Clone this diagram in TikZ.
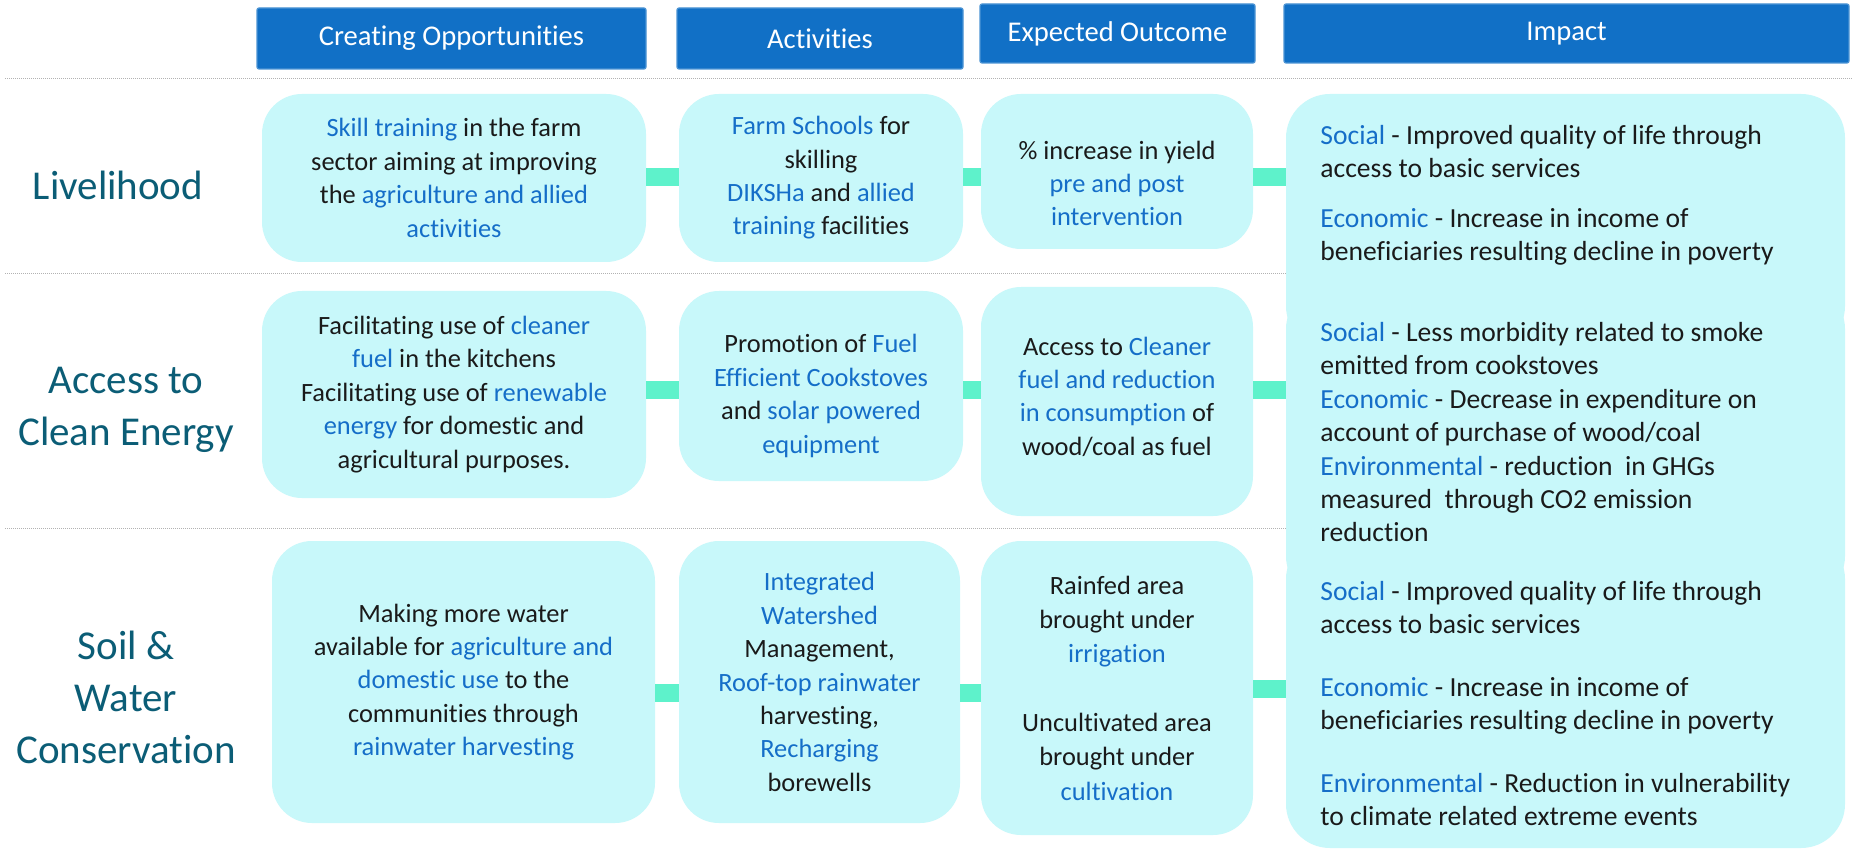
\documentclass[tikz,border=0pt]{standalone}
\usepackage{fontspec}
\setmainfont{Carlito}[Ligatures={CommonOff,ContextualOff}]
\definecolor{hdr}{HTML}{1170C6}
\definecolor{boxc}{HTML}{C8F8FA}
\definecolor{kwc}{HTML}{156EC8}
\definecolor{lbl}{HTML}{0B5D76}
\definecolor{connc}{HTML}{5EF2CB}
\definecolor{txt}{HTML}{1A1A1A}
\newcommand{\kw}[1]{\textcolor{kwc}{#1}}
\begin{document}
\begin{tikzpicture}[x=0.5pt,y=-0.5pt,
  hbox/.style={fill=hdr, draw=hdr!75!white, line width=0.6pt, text=white, inner sep=0pt, rounded corners=1pt, font=\fontsize{14.3}{17}\selectfont},
  cbox/.style={fill=boxc, rounded corners=20pt, align=center, inner sep=0pt, text=txt, font=\fontsize{13.2}{16.7}\selectfont},
  ctext/.style={align=center, inner sep=0pt, text=txt, font=\fontsize{13.2}{16.7}\selectfont},
  ibox/.style={fill=boxc, rounded corners=22pt, inner sep=0pt, minimum width=279.5pt},
  itext/.style={align=left, anchor=north west, inner sep=0pt, text=txt, font=\fontsize{13.8}{16.7}\selectfont},
  rowlbl/.style={align=center, text=lbl, inner sep=0pt, font=\fontsize{20.5}{26}\selectfont},
  connline/.style={draw=connc, line width=9pt},
  dotline/.style={draw=gray!60, line width=0.5pt, dash pattern=on 0.5pt off 0.5pt}]
\useasboundingbox (0,0) rectangle (1852,850);
\fill[white] (0,0) rectangle (1852,850);

% dotted separators
\draw[dotline] (5,79) -- (1852,79);
\draw[dotline] (5,274) -- (1290,274);
\draw[dotline] (5,528) -- (1290,528);

% headers
\node[hbox, minimum width=194.5pt, minimum height=30.5pt] (h1) at (451.5,38.5) {Creating Opportunities};
\node[hbox, minimum width=143pt, minimum height=30.5pt] (h2) at (820,38.5) {Activities};
\node[hbox, minimum width=137.5pt, minimum height=29.5pt] (h3) at (1117.5,33.5) {Expected Outcome};
\node[hbox, minimum width=282.5pt, minimum height=29.5pt] (h4) at (1566.5,33.5) {Impact};

% row labels
\node[rowlbl] (l1) at (118,185) {Livelihood};
\node[rowlbl] (l2) at (126,410) {Access to\\Clean Energy};
\node[rowlbl] (l3) at (126,697) {Soil \&\\Water\\Conservation};

% impact boxes
\node[ibox, minimum height=128pt] (i1) at (1565.5,222) {};
\node[ibox, minimum height=157.5pt] (i2) at (1565.5,442.5) {};
\node[ibox, minimum height=156.5pt] (i3) at (1565.5,691.5) {};

% row 1
\node[cbox, minimum width=192pt, minimum height=84pt] (c1) at (454,178)
  {\kw{Skill training} in the farm\\sector aiming at improving\\the \kw{agriculture and allied}\\\kw{activities}};
\node[cbox, minimum width=142pt, minimum height=84pt] (a1) at (821,178)
  {\kw{Farm Schools} for\\skilling\\\kw{DIKSHa} and \kw{allied}\\\kw{training} facilities};
\node[cbox, minimum width=136pt, minimum height=77.5pt] (e1) at (1117,171.5) {};
\node[ctext] (e1t) at (1117,183.5)
  {\% increase in yield\\\kw{pre and post}\\\kw{intervention}};

% row 2
\node[cbox, minimum width=192pt, minimum height=103.5pt] (c2) at (454,394.5)
  {Facilitating use of \kw{cleaner}\\\kw{fuel} in the kitchens\\Facilitating use of \kw{renewable}\\\kw{energy} for domestic and\\agricultural purposes.};
\node[cbox, minimum width=142pt, minimum height=95pt] (a2) at (821,386) {};
\node[ctext] (a2t) at (821,396)
  {Promotion of \kw{Fuel}\\\kw{Efficient Cookstoves}\\and \kw{solar powered}\\\kw{equipment}};
\node[cbox, minimum width=136pt, minimum height=114.5pt] (e2) at (1117,401.5) {};
\node[ctext] (e2t) at (1117,396.5)
  {Access to \kw{Cleaner}\\\kw{fuel and reduction}\\\kw{in consumption} of\\wood/coal as fuel};

% row 3
\node[cbox, minimum width=191.5pt, minimum height=141pt] (c3) at (463.5,682)
  {Making more water\\available for \kw{agriculture and}\\\kw{domestic use} to the\\communities through\\\kw{rainwater harvesting}};
\node[cbox, minimum width=140.5pt, minimum height=141pt] (a3) at (819.5,682)
  {\kw{Integrated}\\\kw{Watershed}\\Management,\\\kw{Roof-top rainwater}\\harvesting,\\\kw{Recharging}\\borewells};
\node[cbox, minimum width=136pt, minimum height=147pt, font=\fontsize{13.2}{17.1}\selectfont] (e3) at (1117,688)
  {Rainfed area\\brought under\\\kw{irrigation}\\[17.5pt]Uncultivated area\\brought under\\\kw{cultivation}};

% impact texts
\node[itext] (t1) at (1320,125)
  {\kw{Social} - Improved quality of life through\\access to basic services\\[8pt]\kw{Economic} - Increase in income of\\beneficiaries resulting decline in poverty};
\node[itext] (t2) at (1320,322)
  {\kw{Social} - Less morbidity related to smoke\\emitted from cookstoves\\\kw{Economic} - Decrease in expenditure on\\account of purchase of wood/coal\\\kw{Environmental} - reduction\ \ in GHGs\\measured\ \ through CO2 emission\\reduction};
\node[itext] (t3) at (1320,581)
  {\kw{Social} - Improved quality of life through\\access to basic services\\[14.5pt]\kw{Economic} - Increase in income of\\beneficiaries resulting decline in poverty\\[14.5pt]\kw{Environmental} - Reduction in vulnerability\\to climate related extreme events};

% connectors
\coordinate (r1) at (0,177);
\coordinate (r2) at (0,390);
\coordinate (r3) at (0,693);
\coordinate (r3b) at (0,689);
\draw[connline] (c1.east |- r1) -- (a1.west |- r1);
\draw[connline] (a1.east |- r1) -- (e1.west |- r1);
\draw[connline] (e1.east |- r1) -- (i1.west |- r1);
\draw[connline] (c2.east |- r2) -- (a2.west |- r2);
\draw[connline] (a2.east |- r2) -- (e2.west |- r2);
\draw[connline] (e2.east |- r2) -- (i2.west |- r2);
\draw[connline] (c3.east |- r3) -- (a3.west |- r3);
\draw[connline] (a3.east |- r3) -- (e3.west |- r3);
\draw[connline] (e3.east |- r3b) -- (i3.west |- r3b);
\end{tikzpicture}
\end{document}
